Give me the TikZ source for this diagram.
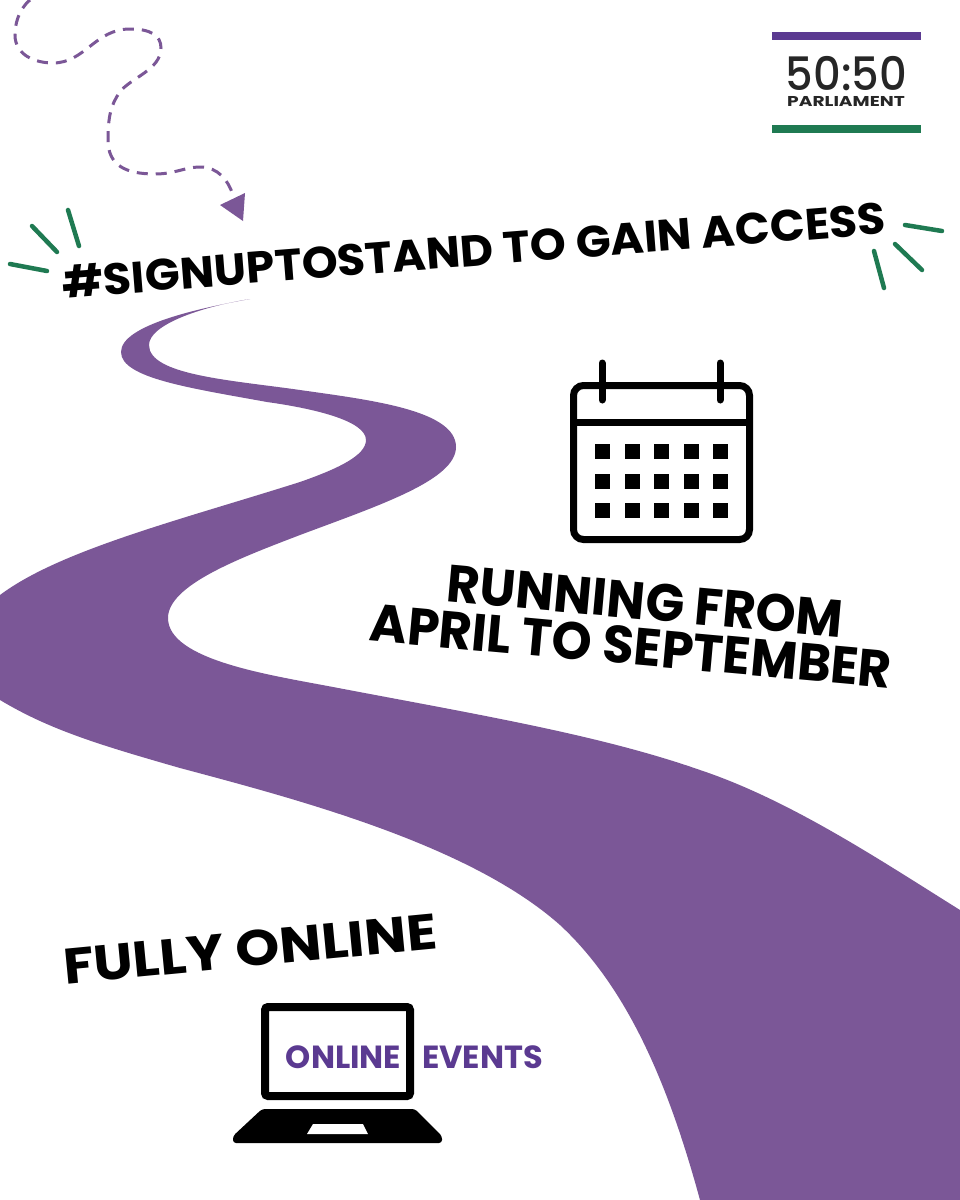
\documentclass[tikz,border=0pt]{standalone}
\usepackage{fontspec}
\setmainfont{Poppins}
\newfontfamily\logofont{Poppins Medium}
\definecolor{roadpurple}{HTML}{7B5797}
\definecolor{logopurple}{HTML}{5B3A91}
\definecolor{sparkgreen}{HTML}{1F7A52}
\tikzset{
    headline/.style={font=\fontsize{44}{44}\selectfont\bfseries, text=black, inner sep=0pt, align=center},
    bigline/.style={font=\fontsize{50}{50}\selectfont\bfseries, text=black, inner sep=0pt, align=center},
    spark/.style={sparkgreen, line width=4.5pt, line cap=round},
    eventtext/.style={font=\fontsize{32}{32}\selectfont\bfseries, text=logopurple, inner sep=0pt}
}
\begin{document}
\begin{tikzpicture}[x=1pt, y=-1pt]
    \useasboundingbox (0,0) rectangle (960,1200);
    \fill[white] (0,0) rectangle (960,1200);

    % Road
    \fill[roadpurple] (250,299) .. controls (200,307) and (149,325) .. (149,345)
        .. controls (149,375) and (230,380) .. (300,390)
        .. controls (370,400) and (456,410) .. (456,447)
        .. controls (456,480) and (380,505) .. (300,535)
        .. controls (240,558) and (168,585) .. (168,618)
        .. controls (168,660) and (270,675) .. (333,687)
        .. controls (480,715) and (600,735) .. (700,770)
        .. controls (790,800) and (880,860) .. (960,910)
        -- (960,1200) -- (700,1200)
        .. controls (670,1090) and (630,990) .. (560,925)
        .. controls (470,845) and (300,800) .. (180,768)
        .. controls (100,745) and (50,730) .. (0,700)
        -- (0,595)
        .. controls (60,550) and (180,520) .. (300,482)
        .. controls (340,468) and (366,455) .. (366,440)
        .. controls (366,420) and (310,408) .. (267,402)
        .. controls (190,388) and (121,378) .. (121,352)
        .. controls (121,325) and (200,308) .. (250,299) -- cycle;

    % Dashed arrow
    \draw[roadpurple, line width=3pt, dash pattern=on 11pt off 8pt] (30,0) .. controls (18,10) and (15,25) .. (15,35)
        .. controls (15,55) and (35,63) .. (53,63)
        .. controls (85,63) and (95,29) .. (130,29)
        .. controls (150,29) and (161,35) .. (161,48)
        .. controls (161,70) and (130,78) .. (120,92)
        .. controls (110,105) and (108,120) .. (108,140)
        .. controls (108,165) and (125,174) .. (155,174)
        .. controls (175,174) and (185,167) .. (200,167)
        .. controls (218,167) and (228,180) .. (233,195);
    \fill[roadpurple] (220,205) -- (245,193) -- (243,221) -- cycle;

    % Logo
    \fill[logopurple] (772,32) rectangle (921,40);
    \fill[sparkgreen] (772,125) rectangle (921,133);
    \node[inner sep=0pt, text=black!85] (logonum) at (846.5,73.5) {\scalebox{0.94}[1]{\fontsize{46}{46}\logofont 50:50}};
    \node[inner sep=0pt, text=black!85] (logoname) at (846,101.5) {\scalebox{1.2}[0.92]{\fontsize{15.5}{15.5}\selectfont\bfseries PARLIAMENT}};

    % Sparks
    \draw[spark] (68,210) -- (79,246);
    \draw[spark] (32,226) -- (57,252);
    \draw[spark] (10,264) -- (47,271);
    \draw[spark] (905,225) -- (942,231);
    \draw[spark] (895,244) -- (922,270);
    \draw[spark] (874,251) -- (884,288);

    % Texts
    \node[headline, rotate=4.5] (signup) at (474,250) {\scalebox{1.04}[1]{\#SIGNUPTOSTAND TO GAIN ACCESS}};
    \node[bigline, rotate=-5.2] (running) at (645,601) {\scalebox{1.02}[1.05]{RUNNING FROM}};
    \node[bigline, rotate=-5.2] (months) at (631,646) {\scalebox{1.02}[1.05]{APRIL TO SEPTEMBER}};
    \node[bigline, rotate=5.5] (fully) at (250,949) {\scalebox{1.12}[1]{FULLY ONLINE}};

    % Calendar
    \draw[line width=7pt, rounded corners=10pt] (573.5,385.5) rectangle (749.5,539.5);
    \draw[line width=7pt] (573.5,422) -- (749.5,422);
    \foreach \x in {602,720} {
        \draw[line width=7pt, line cap=round] (\x,363) -- (\x,400);
    }
    \foreach \x in {602,632,661,691,720} {
        \foreach \y in {451,481,510} {
            \fill (\x-7.5,\y-7.5) rectangle (\x+7.5,\y+7.5);
        }
    }

    % Laptop
    \draw[line width=8pt, rounded corners=3pt] (265,1007) rectangle (410,1096);
    \fill[rounded corners=3pt] (262,1109) -- (415,1109) -- (442,1136) -- (442,1143) -- (233,1143) -- (233,1136) -- cycle;
    \fill[white] (313,1124) -- (363,1124) -- (368,1134) -- (307,1134) -- cycle;
    \node[eventtext] (online) at (343.5,1057) {ONLINE};
    \node[eventtext] (events) at (482.5,1057) {EVENTS};
\end{tikzpicture}
\end{document}
